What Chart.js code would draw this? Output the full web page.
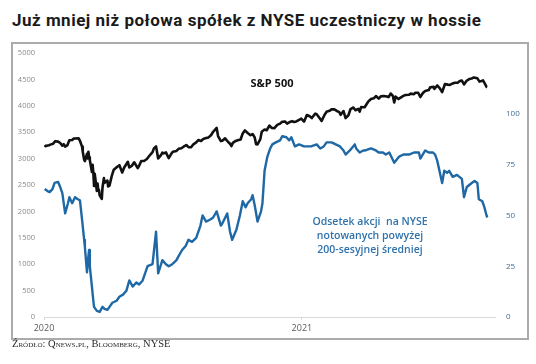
<!DOCTYPE html>
<html lang="pl">
<head>
<meta charset="utf-8">
<script src="https://cdn.jsdelivr.net/npm/chart.js@4.4.1/dist/chart.umd.min.js"></script>
<style>
    body { margin: 0; width: 536px; height: 364px; background: #fff; position: relative; overflow: hidden; }
    #title { position: absolute; left: 12px; top: 10px; font: bold 17px Roboto, sans-serif; letter-spacing: 0.5px; color: #1a1a1a; white-space: nowrap; }
    #frame { position: absolute; left: 11px; top: 42px; width: 518px; height: 298px; box-sizing: border-box; border: 2px solid #ababab; }
    #chart { position: absolute; left: 0; top: 0; }
    .note { position: absolute; text-align: center; white-space: nowrap; font-family: "Open Sans", sans-serif; }
    #spx { left: 222px; top: 75px; width: 100px; font-size: 11px; font-weight: bold; color: #111; }
    #breadth { left: 290px; top: 214px; width: 160px; font-size: 10.5px; font-weight: 600; color: #2f72ab; line-height: 14px; }
    #source { position: absolute; left: 12px; top: 338px; font: 10.5px "Liberation Serif", serif; font-variant: small-caps; color: #2a2a2a; white-space: nowrap; }
</style>
</head>
<body>
<div id="title">Już mniej niż połowa spółek z NYSE uczestniczy w hossie</div>
<div id="frame"></div>
<canvas id="chart" width="536" height="364"></canvas>
<div class="note" id="spx">S&amp;P 500</div>
<div class="note" id="breadth">Odsetek akcji&nbsp; na NYSE<br>notowanych powyżej<br>200-sesyjnej średniej</div>
<div id="source">Źródło: Qnews.pl, Bloomberg, NYSE</div>
<script>
// S&P 500 (lewa oś)
const spxDates = [
    "2020-01-02","2020-01-03","2020-01-06","2020-01-08","2020-01-10","2020-01-14","2020-01-17","2020-01-21","2020-01-24","2020-01-27",
    "2020-01-29","2020-01-31","2020-02-03","2020-02-06","2020-02-10","2020-02-12","2020-02-14","2020-02-19","2020-02-21","2020-02-24",
    "2020-02-25","2020-02-27","2020-02-28","2020-03-02","2020-03-03","2020-03-04","2020-03-05","2020-03-06","2020-03-09","2020-03-10",
    "2020-03-11","2020-03-12","2020-03-13","2020-03-16","2020-03-17","2020-03-18","2020-03-19","2020-03-20","2020-03-23","2020-03-24",
    "2020-03-26","2020-03-27","2020-03-31","2020-04-01","2020-04-03","2020-04-06","2020-04-09","2020-04-14","2020-04-17","2020-04-21",
    "2020-04-24","2020-04-29","2020-05-01","2020-05-05","2020-05-08","2020-05-13","2020-05-15","2020-05-18","2020-05-22","2020-05-26",
    "2020-05-29","2020-06-03","2020-06-05","2020-06-08","2020-06-11","2020-06-15","2020-06-17","2020-06-19","2020-06-22","2020-06-26",
    "2020-06-30","2020-07-02","2020-07-07","2020-07-10","2020-07-14","2020-07-17","2020-07-21","2020-07-24","2020-07-28","2020-07-31",
    "2020-08-04","2020-08-07","2020-08-11","2020-08-14","2020-08-18","2020-08-21","2020-08-25","2020-08-28","2020-09-02","2020-09-04",
    "2020-09-08","2020-09-10","2020-09-14","2020-09-18","2020-09-21","2020-09-23","2020-09-25","2020-09-29","2020-10-02","2020-10-06",
    "2020-10-09","2020-10-12","2020-10-16","2020-10-20","2020-10-23","2020-10-26","2020-10-28","2020-10-30","2020-11-03","2020-11-05",
    "2020-11-09","2020-11-12","2020-11-16","2020-11-19","2020-11-23","2020-11-27","2020-12-01","2020-12-04","2020-12-08","2020-12-11",
    "2020-12-15","2020-12-18","2020-12-21","2020-12-24","2020-12-28","2020-12-31",
    "2021-01-04","2021-01-08","2021-01-12","2021-01-15","2021-01-20","2021-01-22","2021-01-27","2021-01-29","2021-02-02","2021-02-05",
    "2021-02-10","2021-02-12","2021-02-16","2021-02-19","2021-02-23","2021-02-25","2021-03-01","2021-03-04","2021-03-08","2021-03-11",
    "2021-03-15","2021-03-18","2021-03-22","2021-03-24","2021-03-26","2021-03-31","2021-04-05","2021-04-09","2021-04-13","2021-04-16",
    "2021-04-20","2021-04-23","2021-04-27","2021-04-30","2021-05-04","2021-05-07","2021-05-10","2021-05-12","2021-05-14","2021-05-18",
    "2021-05-21","2021-05-25","2021-05-28","2021-06-02","2021-06-04","2021-06-09","2021-06-11","2021-06-15","2021-06-18","2021-06-22",
    "2021-06-25","2021-06-30","2021-07-02","2021-07-07","2021-07-08","2021-07-12","2021-07-16","2021-07-19","2021-07-23","2021-07-27",
    "2021-07-30","2021-08-03","2021-08-06","2021-08-10","2021-08-13","2021-08-16","2021-08-19","2021-08-23","2021-08-27","2021-08-31",
    "2021-09-02","2021-09-07","2021-09-10","2021-09-13","2021-09-15","2021-09-17","2021-09-20","2021-09-21"
];
const spxValues = [
    3258,3235,3246,3253,3265,3283,3330,3321,3295,3244,
    3273,3226,3249,3346,3352,3379,3380,3386,3338,3226,
    3128,2979,2954,3090,3003,3130,3023,2972,2747,2882,
    2741,2481,2711,2386,2529,2398,2409,2305,2237,2447,
    2630,2541,2585,2471,2489,2664,2790,2846,2875,2737,
    2837,2940,2831,2868,2930,2820,2864,2954,2955,2992,
    3044,3123,3194,3232,3002,3067,3114,3098,3117,3009,
    3100,3130,3145,3185,3197,3225,3257,3216,3218,3271,
    3306,3351,3333,3373,3390,3397,3443,3508,3580,3427,
    3332,3339,3383,3319,3281,3237,3298,3335,3348,3361,
    3477,3534,3484,3443,3465,3401,3271,3270,3369,3510,
    3550,3537,3627,3582,3577,3638,3662,3699,3702,3663,
    3695,3709,3694,3703,3735,3756,
    3700,3825,3801,3768,3852,3841,3751,3714,3826,3887,
    3910,3934,3932,3907,3881,3829,3901,3768,3821,3939,
    3968,3915,3941,3890,3975,3973,4078,4129,4142,4185,
    4135,4180,4187,4181,4165,4233,4189,4063,4174,4128,
    4156,4188,4204,4208,4230,4220,4247,4247,4166,4246,
    4281,4298,4352,4358,4320,4385,4327,4258,4412,4401,
    4395,4423,4437,4436,4468,4479,4406,4479,4509,4523,
    4537,4520,4458,4469,4481,4433,4358,4354
];

// % spółek NYSE powyżej 200-sesyjnej średniej (prawa oś)
const breadthDates = [
    "2020-01-02","2020-01-06","2020-01-09","2020-01-13","2020-01-16","2020-01-21","2020-01-24","2020-01-27","2020-01-31","2020-02-04",
    "2020-02-06","2020-02-10","2020-02-14","2020-02-18","2020-02-21","2020-02-24","2020-02-27","2020-02-28","2020-03-02","2020-03-04",
    "2020-03-05","2020-03-06","2020-03-09","2020-03-11","2020-03-12","2020-03-16","2020-03-20","2020-03-24","2020-03-27","2020-03-31",
    "2020-04-03","2020-04-07","2020-04-13","2020-04-17","2020-04-22","2020-04-27","2020-05-01","2020-05-06","2020-05-11","2020-05-15",
    "2020-05-20","2020-05-27","2020-06-03","2020-06-08","2020-06-11","2020-06-17","2020-06-22","2020-06-26","2020-07-01","2020-07-07",
    "2020-07-10","2020-07-15","2020-07-20","2020-07-24","2020-07-29","2020-08-04","2020-08-10","2020-08-13","2020-08-18","2020-08-24",
    "2020-08-28","2020-09-02","2020-09-08","2020-09-10","2020-09-17","2020-09-21","2020-09-24","2020-09-30","2020-10-05","2020-10-09",
    "2020-10-13","2020-10-16","2020-10-21","2020-10-23","2020-10-26","2020-10-30","2020-11-04","2020-11-06","2020-11-09","2020-11-13",
    "2020-11-17","2020-11-20","2020-11-25","2020-12-01","2020-12-04","2020-12-10","2020-12-14","2020-12-17","2020-12-22","2020-12-28",
    "2021-01-04","2021-01-08","2021-01-14","2021-01-22","2021-01-27","2021-02-01","2021-02-05","2021-02-12","2021-02-18","2021-02-24",
    "2021-03-01","2021-03-04","2021-03-10","2021-03-17","2021-03-19","2021-03-24","2021-03-29","2021-04-01","2021-04-09","2021-04-16",
    "2021-04-20","2021-04-26","2021-04-30","2021-05-05","2021-05-12","2021-05-19","2021-05-25","2021-06-02","2021-06-09","2021-06-16",
    "2021-06-18","2021-06-25","2021-06-30","2021-07-06","2021-07-09","2021-07-12","2021-07-19","2021-07-22","2021-07-26","2021-07-29",
    "2021-08-03","2021-08-09","2021-08-16","2021-08-19","2021-08-23","2021-08-30","2021-09-03","2021-09-07","2021-09-09","2021-09-14",
    "2021-09-17","2021-09-20","2021-09-21"
];
const breadthValues = [
    63,62,61.5,63,66,66.5,64,61,51,56,
    59,56,59,58,57.5,48,38,34.5,22,30,
    33,25,15,8,5,3,2.5,5,4,3.5,
    5,7,8,10,11,13,18,15,17,16,
    18,25,26,42,21.5,28,26,25,26,28,
    30,33,35,38,37,39,45,50,47,48,
    49,52,45,46,51,42,38,43,50,57,
    54,56,58,60,55,47,52,56,72,79,
    83,85,86,87,89,88.5,87,88.5,84,85,
    84,84,84,85,83,84,86,86,85,84,
    82,80,82,85,83,81,82,82,83,82,
    81,81,80,81,76,79,80,80,81,81,
    78,82,81,81,80,77,66,72,71,72,
    69,70,68,59,64,66,67,66,58,57,
    54,50,49
];

const yearTicks = [2020, 2021];
const leftMax = 5000;
const rightMax = 130;
const rightTicks = [0, 25, 50, 75, 100];

const dayZero = Date.UTC(2020, 0, 1);
function toDay(s) {
    const [y, m, d] = s.split("-").map(Number);
    return (Date.UTC(y, m - 1, d) - dayZero) / 86400000;
}
const toPoints = (dates, values) => dates.map((d, i) => ({ x: toDay(d), y: values[i] }));

const ctx = document.getElementById("chart").getContext("2d");
new Chart(ctx, {
    type: "line",
    data: {
        datasets: [
            {
                label: "Odsetek akcji",
                data: toPoints(breadthDates, breadthValues),
                yAxisID: "y1",
                borderColor: "#1f68a6",
                borderWidth: 2.4,
                pointRadius: 0,
                tension: 0,
                borderJoinStyle: "round"
            },
            {
                label: "S&P 500",
                data: toPoints(spxDates, spxValues),
                yAxisID: "y",
                borderColor: "#111111",
                borderWidth: 2.6,
                pointRadius: 0,
                tension: 0,
                borderJoinStyle: "round"
            }
        ]
    },
    options: {
        responsive: false,
        animation: false,
        devicePixelRatio: 1,
        layout: { padding: { left: 0, right: 0, top: 53, bottom: 27 } },
        plugins: { legend: { display: false }, tooltip: { enabled: false } },
        scales: {
            x: {
                type: "linear",
                min: 0,
                max: 640,
                afterFit: s => { s.height = 20; },
                afterBuildTicks: s => { s.ticks = yearTicks.map(y => ({ value: toDay(y + "-01-01") })); },
                ticks: {
                    autoSkip: false,
                    maxRotation: 0,
                    padding: 3,
                    color: "#595959",
                    font: { family: "Open Sans", size: 9 },
                    callback: v => String(2020 + Math.round(v / 366))
                },
                grid: { drawOnChartArea: false, tickLength: 3, color: "#d9d9d9" },
                border: { display: true, color: "#d9d9d9", width: 1 }
            },
            y: {
                position: "left",
                min: 0,
                max: leftMax,
                afterFit: s => { s.width = 44; },
                ticks: {
                    stepSize: 500,
                    padding: 1,
                    color: "#8a8a8a",
                    font: { family: "Open Sans", size: 7.5 },
                    callback: v => String(v)
                },
                grid: { display: false },
                border: { display: false }
            },
            y1: {
                position: "right",
                min: 0,
                max: rightMax,
                afterFit: s => { s.width = 41; },
                afterBuildTicks: s => { s.ticks = rightTicks.map(v => ({ value: v })); },
                ticks: {
                    padding: 3,
                    color: "#3f6c96",
                    font: { family: "Open Sans", size: 8 },
                    callback: v => String(v)
                },
                grid: { display: false },
                border: { display: false }
            }
        }
    }
});
</script>
</body>
</html>
